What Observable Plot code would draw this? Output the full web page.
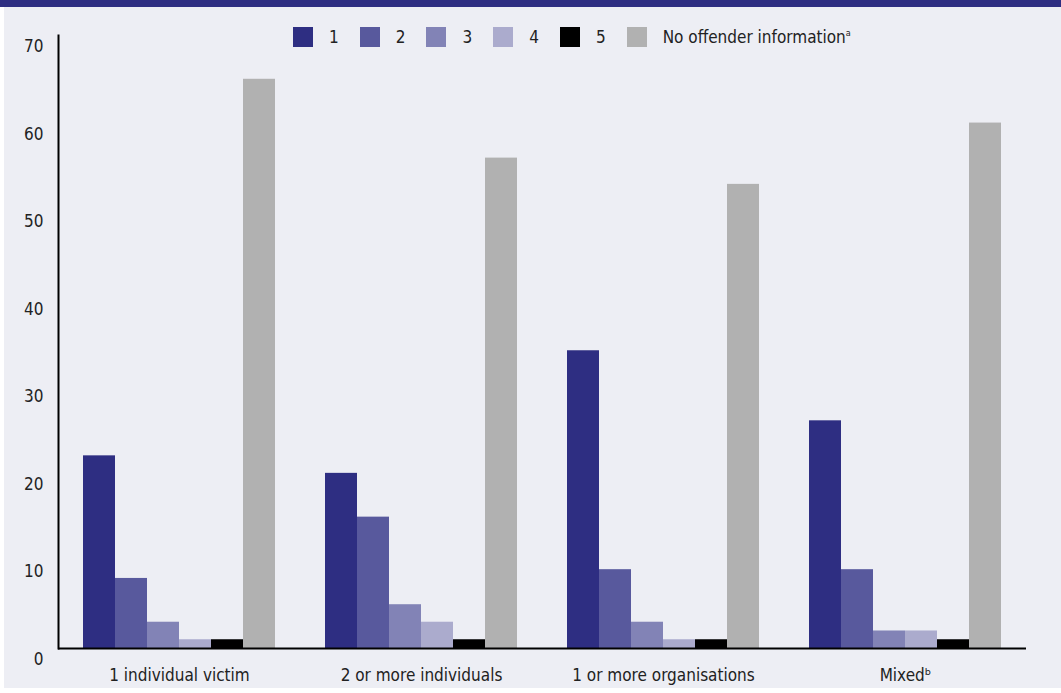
<!DOCTYPE html>
<html><head><meta charset="utf-8">
<script src="https://cdn.jsdelivr.net/npm/d3@7"></script>
<script src="https://cdn.jsdelivr.net/npm/@observablehq/plot@0.6"></script>
<style>
body{margin:0;background:#fff;}
#wrap{position:relative;width:1061px;height:693px;overflow:hidden;font-family:"Liberation Sans Narrow","Arial Narrow","DejaVu Sans Condensed",sans-serif;}
#panel{position:absolute;left:4px;top:0;width:1057px;height:688px;background:#EDEEF4;}
#band{position:absolute;left:0;top:0;width:1061px;height:7px;background:#2E2E82;}
#chart{position:absolute;left:0;top:0;}
#legend{position:absolute;left:293px;top:27px;display:flex;align-items:center;font-size:17px;color:#222;line-height:20px;}
#legend .item{display:flex;align-items:center;margin-right:21px;}
#legend .sw{width:20px;height:20px;margin-right:16px;}
#legend sup{font-size:9px;line-height:0;vertical-align:7px;}
</style></head>
<body>
<div id="wrap">
  <div id="panel"></div>
  <div id="band"></div>
  <div id="chart"></div>
  <div id="legend"></div>
</div>
<script>
const categories = ["1 individual victim", "2 or more individuals", "1 or more organisations", "Mixed"];
const categoryLabels = ["1 individual victim", "2 or more individuals", "1 or more organisations", "Mixedᵇ"];
const series = ["1", "2", "3", "4", "5", "No offender information"];
const seriesColors = ["#2E2E82", "#58599D", "#8283B6", "#ABABCD", "#000000", "#B1B1B1"];
const values1 = [22, 20, 34, 26];
const values2 = [8, 15, 9, 9];
const values3 = [3, 5, 3, 2];
const values4 = [1, 3, 1, 2];
const values5 = [1, 1, 1, 1];
const valuesNoInfo = [65, 56, 53, 60];
const yTicks = [0, 10, 20, 30, 40, 50, 60, 70];

const seriesValues = [values1, values2, values3, values4, values5, valuesNoInfo];
const data = categories.flatMap((c, i) => series.map((s, j) => ({category: c, series: s, value: seriesValues[j][i]})));

const font = '"Liberation Sans Narrow","Arial Narrow","DejaVu Sans Condensed",sans-serif';
const chart = Plot.plot({
  width: 1061, height: 690,
  marginTop: 35, marginBottom: 42, marginLeft: 58, marginRight: 35,
  style: {background: "transparent", fontFamily: font, fontSize: "17px", color: "#222"},
  fx: {domain: categories, paddingInner: 0, paddingOuter: 0, label: null},
  x: {domain: series, paddingInner: 0, paddingOuter: 0.723, axis: null},
  y: {domain: [0, 70]},
  color: {domain: series, range: seriesColors},
  marks: [
    Plot.barY(data, {fx: "category", x: "series", y: "value", fill: "series"}),
    Plot.ruleY([0], {stroke: "#000", strokeWidth: 2}),
    Plot.frame({anchor: "left", facetAnchor: "left", stroke: "#000", strokeWidth: 2}),
    Plot.axisY({ticks: yTicks, tickSize: 0, tickPadding: 15, dy: 11, label: null, fill: "#222"}),
    Plot.axisFx({anchor: "bottom", tickSize: 0, tickPadding: 20, label: null, tickFormat: d => categoryLabels[categories.indexOf(d)], fill: "#222"})
  ]
});
document.getElementById("chart").appendChild(chart);

const legend = document.getElementById("legend");
series.forEach((s, i) => {
  const item = document.createElement("div");
  item.className = "item";
  const sw = document.createElement("div");
  sw.className = "sw";
  sw.style.background = seriesColors[i];
  item.appendChild(sw);
  const t = document.createElement("span");
  t.innerHTML = s === "No offender information" ? s + "<sup>a</sup>" : s;
  item.appendChild(t);
  legend.appendChild(item);
});
</script>
</body></html>
